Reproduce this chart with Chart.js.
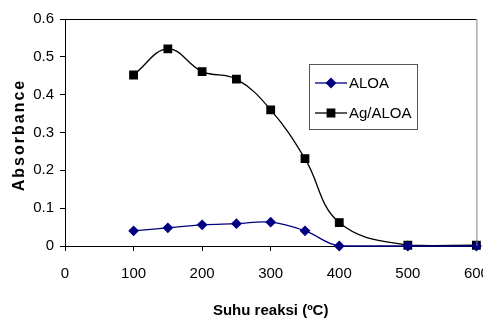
<!DOCTYPE html>
<html>
<head>
<meta charset="utf-8">
<script src="https://cdn.jsdelivr.net/npm/chart.js@4.4.1/dist/chart.umd.min.js"></script>
<style>
  html, body { margin: 0; padding: 0; background: #fff; }
</style>
</head>
<body>
<canvas id="line" width="483" height="322"></canvas>
<script>
const suhu = [100, 150, 200, 250, 300, 350, 400, 500, 600];
const aloa = [0.04, 0.048, 0.056, 0.059, 0.063, 0.04, 0.0, 0.0, 0.0];
const agAloa = [0.452, 0.521, 0.461, 0.441, 0.36, 0.231, 0.062, 0.002, 0.002];
const xTicks = [0, 100, 200, 300, 400, 500, 600];
const yTicks = [0, 0.1, 0.2, 0.3, 0.4, 0.5, 0.6];

const FONT = "'Liberation Sans', Arial, sans-serif";

const toPoints = (vals) => vals.map((v, i) => ({ x: suhu[i], y: v }));

// frame (top + right) and the legend box inside the plot
const framePlugin = {
  id: 'frameAndLegend',
  afterDraw: (chart) => {
    const { ctx, chartArea } = chart;
    ctx.save();
    ctx.lineWidth = 1;
    ctx.strokeStyle = '#000';
    ctx.beginPath();
    ctx.moveTo(chartArea.left, chartArea.top + 0.5);
    ctx.lineTo(chartArea.right, chartArea.top + 0.5);
    ctx.stroke();
    ctx.strokeStyle = '#808080';
    ctx.beginPath();
    ctx.moveTo(chartArea.right + 0.5, chartArea.top);
    ctx.lineTo(chartArea.right + 0.5, chartArea.bottom);
    ctx.stroke();

    // legend
    const bx = 309.5, by = 64.5, bw = 108, bh = 65;
    ctx.fillStyle = '#fff';
    ctx.fillRect(bx, by, bw, bh);
    ctx.strokeStyle = '#555';
    ctx.lineWidth = 1;
    ctx.strokeRect(bx, by, bw, bh);
    const rows = [83, 113];
    chart.data.datasets.forEach((ds, i) => {
      const y = rows[i];
      ctx.strokeStyle = ds.borderColor;
      ctx.lineWidth = 1.3;
      ctx.beginPath();
      ctx.moveTo(315, y);
      ctx.lineTo(347, y);
      ctx.stroke();
      ctx.fillStyle = ds.pointBackgroundColor;
      ctx.strokeStyle = ds.pointBorderColor;
      Chart.helpers.drawPoint(ctx, {
        pointStyle: ds.pointStyle,
        radius: ds.pointRadius,
        borderWidth: 1
      }, 331, y);
      ctx.fillStyle = '#000';
      ctx.font = '15px ' + FONT;
      ctx.textBaseline = 'middle';
      ctx.textAlign = 'left';
      ctx.fillText(ds.label, 349, y + 1);
    });

    // y axis title, letter spaced
    ctx.save();
    ctx.translate(20, 135);
    ctx.rotate(-Math.PI / 2);
    ctx.font = 'bold 16px ' + FONT;
    ctx.letterSpacing = '2px';
    ctx.fillStyle = '#000';
    ctx.textAlign = 'center';
    ctx.textBaseline = 'middle';
    ctx.fillText('Absorbance', 0, 0);
    ctx.restore();
    ctx.restore();
  }
};

new Chart(document.getElementById('line').getContext('2d'), {
  type: 'line',
  data: {
    datasets: [
      {
        label: 'ALOA',
        data: toPoints(aloa),
        borderColor: '#000080',
        backgroundColor: '#000080',
        pointBackgroundColor: '#000080',
        pointBorderColor: '#000080',
        pointStyle: 'rectRot',
        pointRadius: 4.5,
        borderWidth: 1.3,
        tension: 0.4,
        clip: false
      },
      {
        label: 'Ag/ALOA',
        data: toPoints(agAloa),
        borderColor: '#000',
        backgroundColor: '#000',
        pointBackgroundColor: '#000',
        pointBorderColor: '#000',
        pointStyle: 'rect',
        pointRadius: 5.3,
        borderWidth: 1.3,
        tension: 0.4,
        clip: false
      }
    ]
  },
  plugins: [framePlugin],
  options: {
    responsive: false,
    animation: false,
    devicePixelRatio: 1,
    layout: { padding: { left: 0, right: 6, top: 19, bottom: 0 } },
    plugins: {
      legend: { display: false },
      tooltip: { enabled: false }
    },
    scales: {
      x: {
        type: 'linear',
        min: 0,
        max: 600,
        afterBuildTicks: (scale) => { scale.ticks = xTicks.map(v => ({ value: v })); },
        afterFit: (scale) => {
          scale.height = 76;
          // let the "600" label run off the canvas like the original
          scale.paddingLeft = 0;
          scale.paddingRight = 0;
        },
        grid: { display: true, drawOnChartArea: false, tickLength: 5, color: '#000' },
        border: { color: '#000', width: 1 },
        ticks: {
          color: '#000',
          padding: 14,
          maxRotation: 0,
          autoSkip: false,
          font: { family: FONT, size: 15 }
        },
        title: {
          display: true,
          text: 'Suhu reaksi (ºC)',
          color: '#000',
          padding: { top: 4, bottom: 2 },
          font: { family: FONT, size: 15, weight: 'bold' }
        }
      },
      y: {
        min: 0,
        max: 0.6,
        afterBuildTicks: (scale) => { scale.ticks = yTicks.map(v => ({ value: v })); },
        afterFit: (scale) => {
          scale.width = 65;
          scale.paddingTop = 0;
          scale.paddingBottom = 0;
        },
        grid: { display: true, drawOnChartArea: false, tickLength: 5, color: '#000' },
        border: { color: '#000', width: 1 },
        ticks: {
          color: '#000',
          padding: 6,
          autoSkip: false,
          font: { family: FONT, size: 15 },
          callback: (v) => String(Math.round(v * 10) / 10)
        }
      }
    }
  }
});
</script>
</body>
</html>
